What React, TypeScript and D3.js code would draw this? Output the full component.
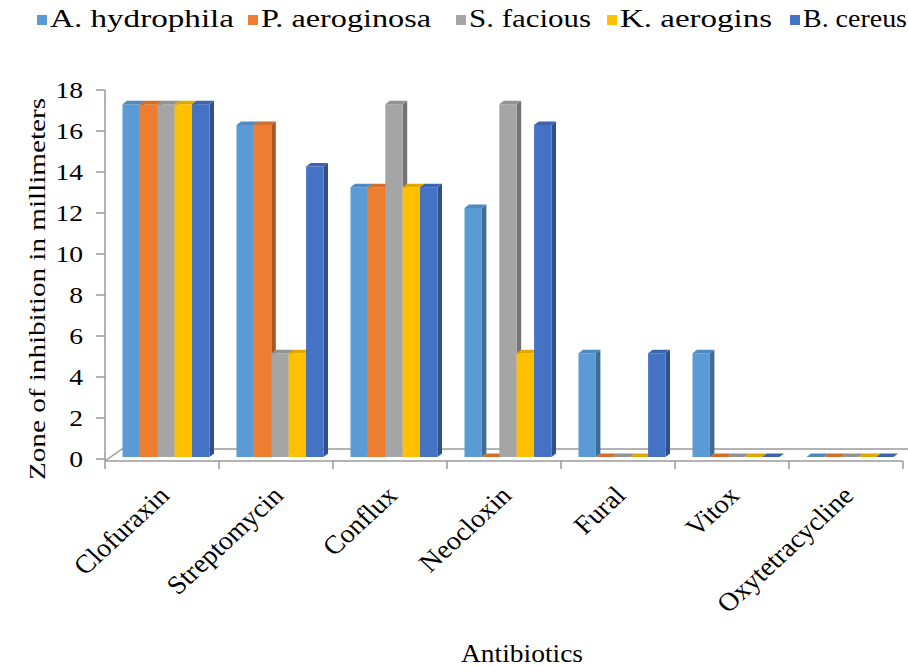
import React, { useEffect, useRef } from "react";
import * as d3 from "d3";

// categories and series
const antibiotics = ["Clofuraxin", "Streptomycin", "Conflux", "Neocloxin", "Fural", "Vitox", "Oxytetracycline"];
const bacteria = ["A. hydrophila", "P. aeroginosa", "S. facious", "K. aerogins", "B. cereus"];
const hydrophila = [17, 16, 13, 12, 5, 5, 0];
const aeroginosa = [17, 16, 13, 0, 0, 0, 0];
const facious = [17, 5, 17, 17, 0, 0, 0];
const aerogins = [17, 5, 13, 5, 0, 0, 0];
const cereus = [17, 14, 13, 16, 5, 0, 0];
const yTicks = [0, 2, 4, 6, 8, 10, 12, 14, 16, 18];

const colors = ["#5B9BD5", "#ED7D31", "#A5A5A5", "#FFC000", "#4472C4"];
const legendX = [37, 248, 456, 607, 790];
const legendLen = [184, 170, 122, 152, 104];

const App: React.FC = () => {
  const svgRef = useRef<SVGSVGElement | null>(null);

  useEffect(() => {
    const svg = d3.select(svgRef.current);
    svg.selectAll("*").remove();

    const w = 908;
    const h = 666;
    const font = "'Liberation Serif', 'Times New Roman', serif";
    const lineColor = "#9a9a9a";
    const series = [hydrophila, aeroginosa, facious, aerogins, cereus];

    svg.attr("width", w).attr("height", h).style("background", "#ffffff");

    // category axis across the floor front edge
    const x0 = d3.scaleBand<string>().domain(antibiotics).range([105, 903]);
    const x1 = d3.scaleBand<string>().domain(bacteria).range([17.5, 104.5]);
    // tick scale (front of floor) and bar scale (bars sit a bit back)
    const yAxis = d3.scaleLinear().domain([0, 18]).range([459, 90]);
    const yBar = d3.scaleLinear().domain([0, 18]).range([457, 457 - 18 * 20.75]);
    const dx = 4.5;
    const dy = 3.5;

    // floor
    svg.append("path")
      .attr("d", `M105,461 L122,449 L908,449`)
      .attr("fill", "none")
      .attr("stroke", lineColor)
      .attr("stroke-width", 1.5);

    // bars, painted left to right so right side faces get covered
    antibiotics.forEach((ab, ci) => {
      bacteria.forEach((bac, si) => {
        const v = series[si][ci];
        const xl = x0(ab)! + x1(bac)!;
        const xr = xl + x1.bandwidth();
        const yt = yBar(v);
        const yb = yBar(0);
        const base = d3.color(colors[si])!;
        const g = svg.append("g");
        if (v > 0) {
          g.append("path")
            .attr("d", `M${xr},${yt} L${xr + dx},${yt - dy} L${xr + dx},${yb - dy} L${xr},${yb} Z`)
            .attr("fill", base.darker(1).formatHex());
          g.append("rect")
            .attr("x", xl)
            .attr("y", yt)
            .attr("width", x1.bandwidth())
            .attr("height", yb - yt)
            .attr("fill", colors[si]);
        }
        g.append("path")
          .attr("d", `M${xl},${yt} L${xl + dx},${yt - dy} L${xr + dx},${yt - dy} L${xr},${yt} Z`)
          .attr("fill", base.darker(0.35).formatHex());
      });
    });

    // x axis line + ticks
    svg.append("line")
      .attr("x1", 105).attr("x2", 903)
      .attr("y1", 461).attr("y2", 461)
      .attr("stroke", lineColor).attr("stroke-width", 1.5);
    const bounds = antibiotics.map(a => x0(a)!).concat([903]);
    svg.selectAll(".xtick")
      .data(bounds)
      .enter()
      .append("line")
      .attr("x1", d => d).attr("x2", d => d)
      .attr("y1", 461).attr("y2", 469)
      .attr("stroke", lineColor).attr("stroke-width", 1.5);

    // y axis line + ticks
    svg.append("line")
      .attr("x1", 105).attr("x2", 105)
      .attr("y1", 90).attr("y2", 461)
      .attr("stroke", lineColor).attr("stroke-width", 1.5);
    svg.selectAll(".ytick")
      .data(yTicks)
      .enter()
      .append("line")
      .attr("x1", 96).attr("x2", 105)
      .attr("y1", d => yAxis(d)).attr("y2", d => yAxis(d))
      .attr("stroke", lineColor).attr("stroke-width", 1.5);
    svg.selectAll(".ylabel")
      .data(yTicks)
      .enter()
      .append("text")
      .attr("transform", d => `translate(83,${yAxis(d)}) scale(1.15,1)`)
      .attr("dy", "0.35em")
      .attr("text-anchor", "end")
      .style("font-family", font)
      .style("font-size", "24px")
      .attr("fill", "#000")
      .text(d => d);

    // category labels, rotated
    svg.selectAll(".xlabel")
      .data(antibiotics)
      .enter()
      .append("text")
      .attr("transform", d => `translate(${x0(d)! + x0.bandwidth() / 2 + 9},497) scale(1.08,1) rotate(-45)`)
      .attr("text-anchor", "end")
      .style("font-family", font)
      .style("font-size", "26px")
      .attr("fill", "#000")
      .text(d => d);

    // axis titles
    svg.append("text")
      .attr("transform", "translate(45,289) rotate(-90)")
      .attr("text-anchor", "middle")
      .attr("textLength", 382)
      .attr("lengthAdjust", "spacingAndGlyphs")
      .style("font-family", font)
      .style("font-size", "24px")
      .attr("fill", "#000")
      .text("Zone of inhibition in millimeters");

    svg.append("text")
      .attr("x", 461)
      .attr("y", 662)
      .attr("textLength", 122)
      .attr("lengthAdjust", "spacingAndGlyphs")
      .style("font-family", font)
      .style("font-size", "25px")
      .attr("fill", "#000")
      .text("Antibiotics");

    // legend
    const leg = svg.selectAll(".legend")
      .data(bacteria)
      .enter()
      .append("g")
      .attr("transform", (_, i) => `translate(${legendX[i]},0)`);
    leg.append("rect")
      .attr("x", 0).attr("y", 15)
      .attr("width", 10).attr("height", 10)
      .attr("fill", (_, i) => colors[i]);
    leg.append("text")
      .attr("x", 13)
      .attr("y", 26.5)
      .attr("textLength", (_, i) => legendLen[i])
      .attr("lengthAdjust", "spacingAndGlyphs")
      .style("font-family", font)
      .style("font-size", "25px")
      .attr("fill", "#000")
      .text(d => d);
  }, []);

  return (
    <div style={{ position: "absolute", left: 0, top: 0, width: 908, height: 666 }}>
      <svg ref={svgRef}></svg>
    </div>
  );
};

export default App;
